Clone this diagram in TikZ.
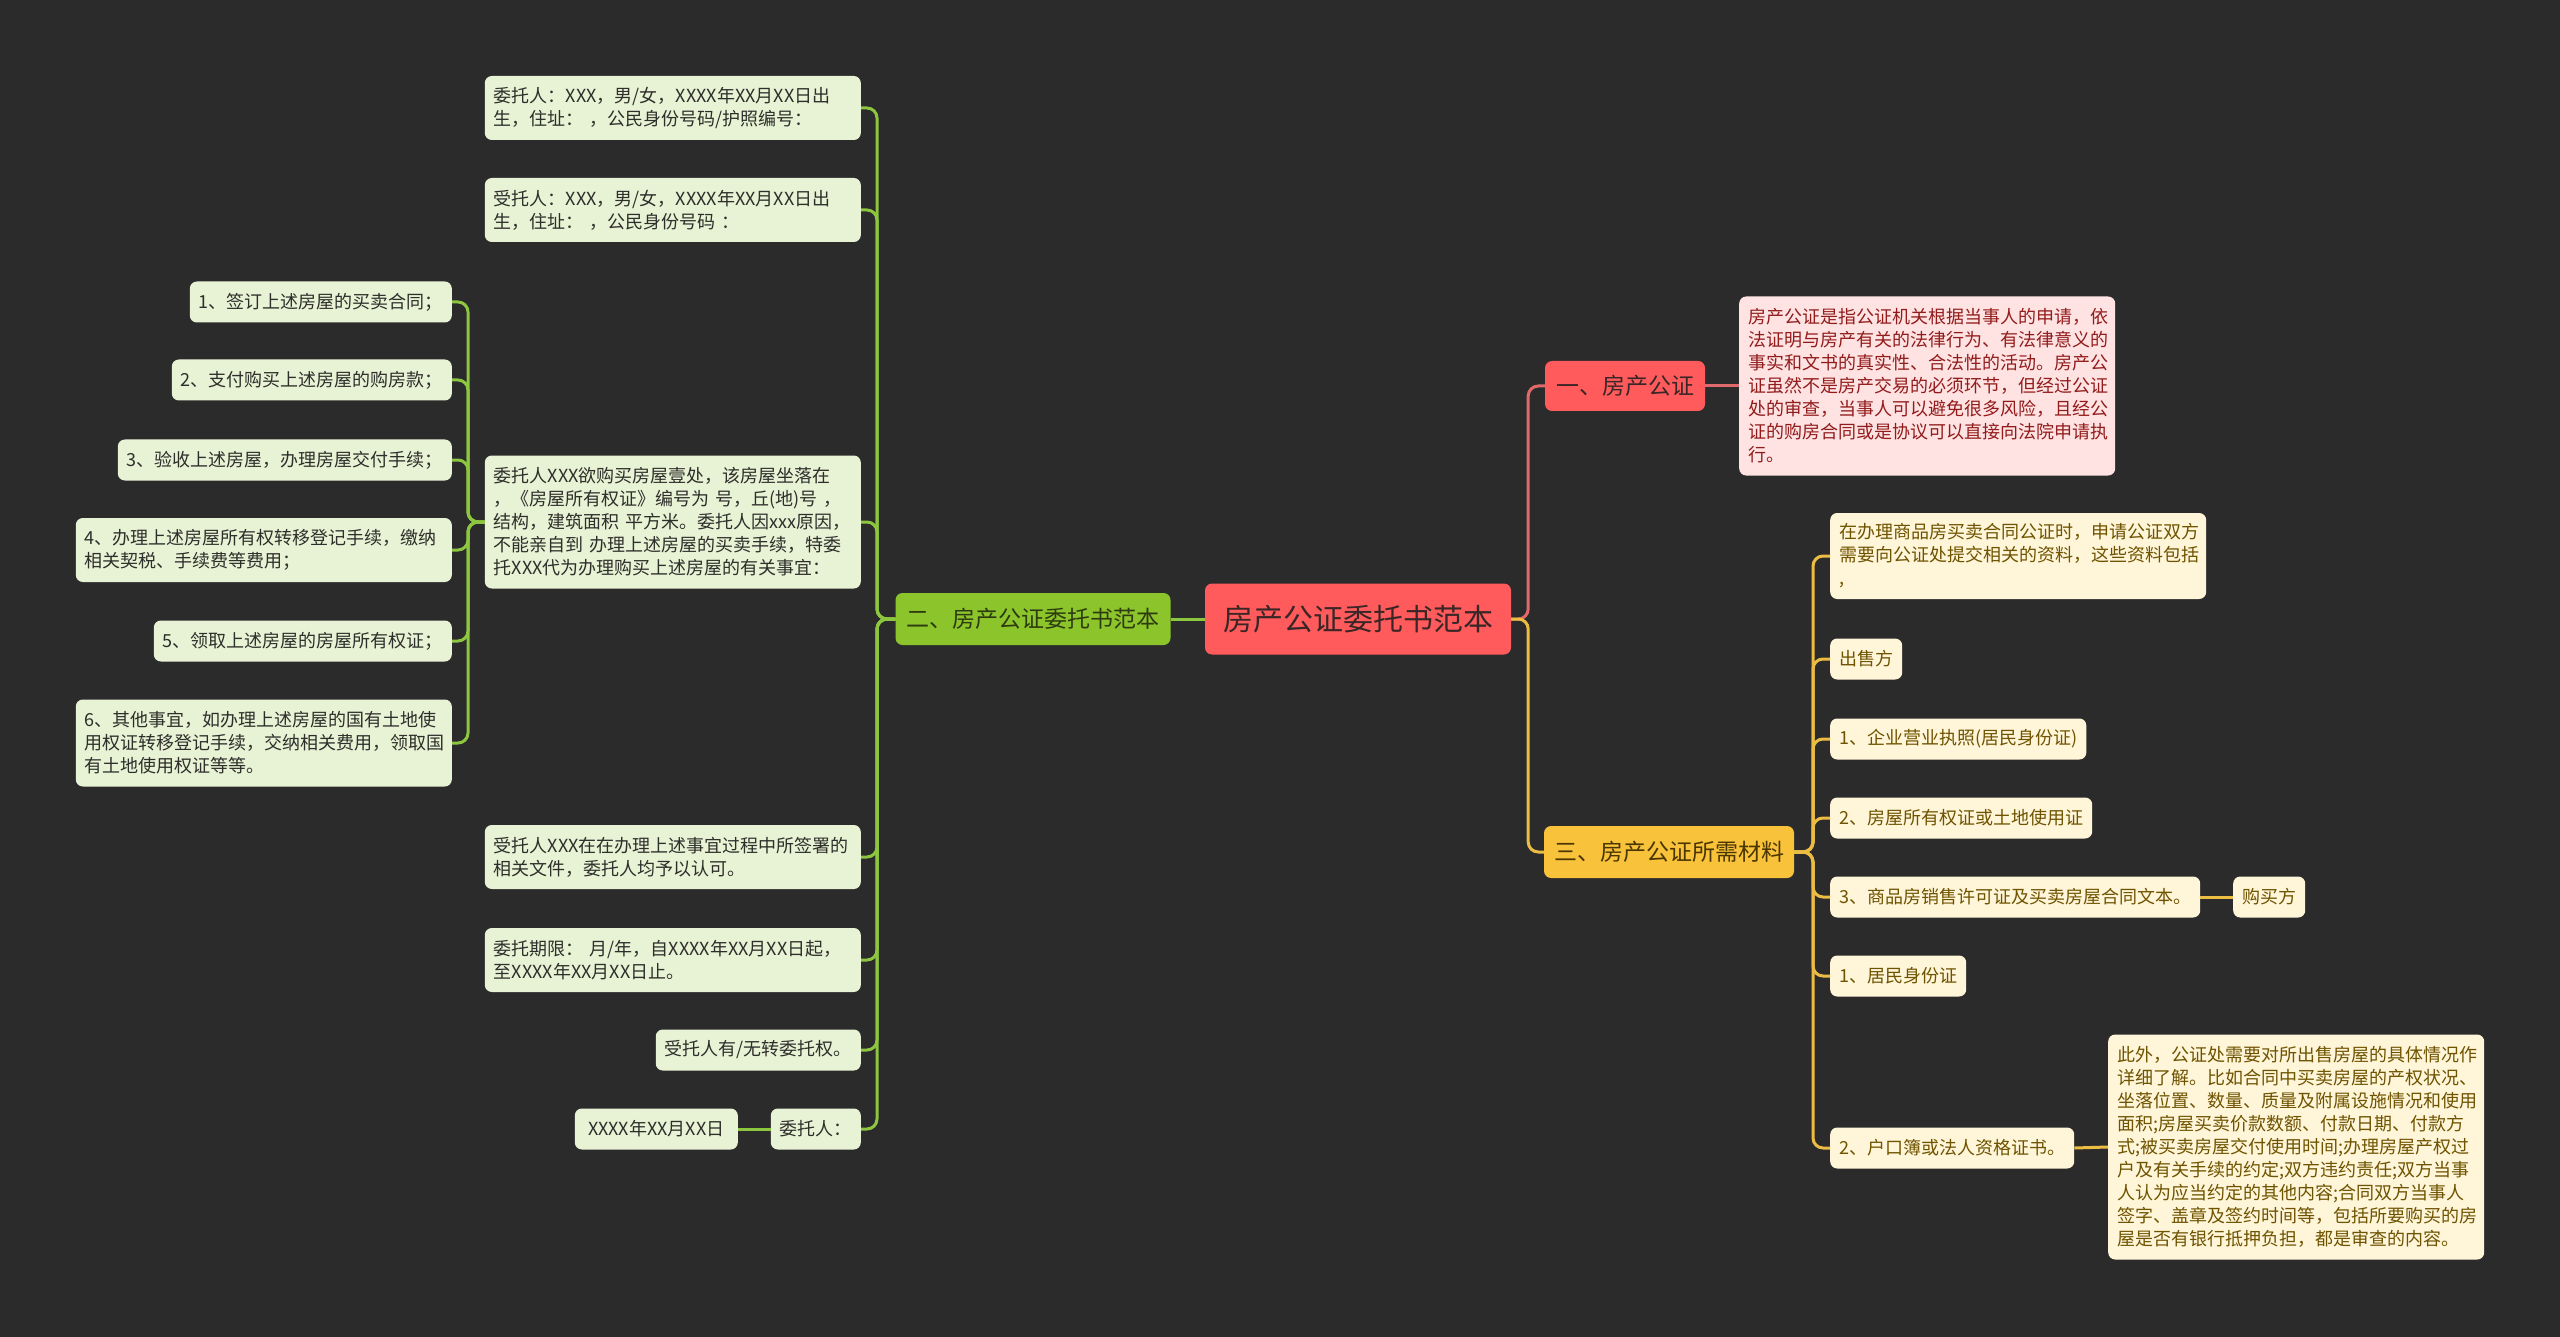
\documentclass[tikz,border=0pt]{standalone}
\usepackage{fontspec}
\setmainfont{Noto Sans CJK SC}
\definecolor{bgdark}{HTML}{2B2B2B}
\definecolor{rootfill}{HTML}{FF5B5C}
\definecolor{roottext}{HTML}{3A2626}
\definecolor{gfill}{HTML}{8CC42B}
\definecolor{gtext}{HTML}{2D3B10}
\definecolor{gline}{HTML}{8DC63F}
\definecolor{gleaffill}{HTML}{E8F2D5}
\definecolor{gleaftext}{HTML}{2E2E2A}
\definecolor{rline}{HTML}{E0696B}
\definecolor{rleaffill}{HTML}{FFE2E2}
\definecolor{rleaftext}{HTML}{921C1C}
\definecolor{yfill}{HTML}{F8C23A}
\definecolor{ytext}{HTML}{4A3600}
\definecolor{yline}{HTML}{ECBD43}
\definecolor{yleaffill}{HTML}{FFF5D8}
\definecolor{yleaftext}{HTML}{6E5300}

\begin{document}
\begin{tikzpicture}[x=1pt, y=-1pt,
  leaf/.style={rounded corners=7pt, inner xsep=9pt, inner ysep=2pt, minimum height=41pt,
    align=left, font=\fontsize{18}{23}\selectfont},
  wide/.style={text width=358pt},
  branch/.style={rounded corners=7pt, inner xsep=11pt, minimum height=52pt,
    font=\fontsize{23}{28}\selectfont},
  link/.style={line width=3pt, rounded corners=10pt}]
% page and background
\useasboundingbox (0,0) rectangle (2560,1337);
\fill[bgdark] (0,0) rectangle (2560,1337);

% centre and the three main branches
\node[rounded corners=7pt, fill=rootfill, text=roottext, minimum width=306pt, minimum height=71pt,
  font=\fontsize{30}{34}\selectfont] (root) at (1358,619) {房产公证委托书范本};
\node[branch, fill=gfill, text=gtext] (gb) at (1033,619) {二、房产公证委托书范本};
\node[branch, fill=rootfill, text=roottext, minimum height=50pt] (rb) at (1625,386) {一、房产公证};
\node[branch, fill=yfill, text=ytext, inner xsep=10pt] (yb) at (1669,852) {三、房产公证所需材料};

% left side: green leaves
\coordinate (gsp) at (877,0);
\coordinate (lsp) at (468,0);
\begin{scope}[every node/.style={leaf, fill=gleaffill, text=gleaftext, anchor=east}]
\node[wide, minimum height=64pt] (g1) at (861,108) {委托人：XXX，男/女，XXXX年XX月XX日出\\生，住址：~，公民身份号码/护照编号：};
\node[wide, minimum height=64pt] (g2) at (861,210) {受托人：XXX，男/女，XXXX年XX月XX日出\\生，住址：~，公民身份号码~：};
\node[wide, minimum height=133pt] (g3) at (861,522) {委托人XXX欲购买房屋壹处，该房屋坐落在\\，《房屋所有权证》编号为~号，丘(地)号~，\\结构，建筑面积~平方米。委托人因xxx原因，\\不能亲自到~办理上述房屋的买卖手续，特委\\托XXX代为办理购买上述房屋的有关事宜：};
\node[wide, minimum height=64pt] (g4) at (861,857) {受托人XXX在在办理上述事宜过程中所签署的\\相关文件，委托人均予以认可。};
\node[wide, minimum height=64pt] (g5) at (861,960) {委托期限：~月/年，自XXXX年XX月XX日起，\\至XXXX年XX月XX日止。};
\node (g6) at (861,1050) {受托人有/无转委托权。};
\node (g7) at (861,1129) {委托人：};
\node[minimum width=163pt] (gdate) at (738,1129) {XXXX年XX月XX日};
\node (l1) at (452,302) {1、签订上述房屋的买卖合同；};
\node (l2) at (452,380) {2、支付购买上述房屋的购房款；};
\node (l3) at (452,460) {3、验收上述房屋，办理房屋交付手续；};
\node[wide, minimum height=64pt] (l4) at (452,550) {4、办理上述房屋所有权转移登记手续，缴纳\\相关契税、手续费等费用；};
\node (l5) at (452,641) {5、领取上述房屋的房屋所有权证；};
\node[wide, minimum height=87pt] (l6) at (452,743) {6、其他事宜，如办理上述房屋的国有土地使\\用权证转移登记手续，交纳相关费用，领取国\\有土地使用权证等等。};
\end{scope}

% right side: red and yellow leaves
\node[leaf, wide, fill=rleaffill, text=rleaftext, anchor=west, minimum height=179pt] (rd) at (1739,386)
  {房产公证是指公证机关根据当事人的申请，依\\法证明与房产有关的法律行为、有法律意义的\\事实和文书的真实性、合法性的活动。房产公\\证虽然不是房产交易的必须环节，但经过公证\\处的审查，当事人可以避免很多风险，且经公\\证的购房合同或是协议可以直接向法院申请执\\行。};
\coordinate (ysp) at (1813,0);
\begin{scope}[every node/.style={leaf, fill=yleaffill, text=yleaftext, anchor=west}]
\node[wide, minimum height=86pt] (y1) at (1830,556) {在办理商品房买卖合同公证时，申请公证双方\\需要向公证处提交相关的资料，这些资料包括\\,};
\node (y2) at (1830,659) {出售方};
\node (y3) at (1830,739) {1、企业营业执照(居民身份证)};
\node (y4) at (1830,818) {2、房屋所有权证或土地使用证};
\node (y5) at (1830,897) {3、商品房销售许可证及买卖房屋合同文本。};
\node (ybuy) at (2233,897) {购买方};
\node (y6) at (1830,976) {1、居民身份证};
\node (y7) at (1830,1148) {2、户口簿或法人资格证书。};
\node[wide, minimum height=225pt] (yd) at (2108,1147) {此外，公证处需要对所出售房屋的具体情况作\\详细了解。比如合同中买卖房屋的产权状况、\\坐落位置、数量、质量及附属设施情况和使用\\面积;房屋买卖价款数额、付款日期、付款方\\式;被买卖房屋交付使用时间;办理房屋产权过\\户及有关手续的约定;双方违约责任;双方当事\\人认为应当约定的其他内容;合同双方当事人\\签字、盖章及签约时间等，包括所要购买的房\\屋是否有银行抵押负担，都是审查的内容。};
\end{scope}

% connectors
\draw[link, gline] (root.west) -- (gb.east);
\foreach \c in {g1,g2,g3,g4,g5,g6,g7}
  \draw[link, gline] (gb.west) -- (gb.west -| gsp) |- (\c.east);
\draw[link, gline] (g7.west) -- (gdate.east);
\foreach \c in {l1,l2,l3,l4,l5,l6}
  \draw[link, gline] (g3.west) -- (g3.west -| lsp) |- (\c.east);
\draw[link, rline] (root.east) -- ++(17,0) |- (rb.west);
\draw[link, rline] (rb.east) -- (rd.west);
\draw[link, yline] (root.east) -- ++(17,0) |- (yb.west);
\foreach \c in {y1,y2,y3,y4,y5,y6,y7}
  \draw[link, yline] (yb.east) -- (yb.east -| ysp) |- (\c.west);
\draw[link, yline] (y5.east) -- (ybuy.west);
\draw[link, yline] (y7.east) -- (yd.west);
\end{tikzpicture}
\end{document}
